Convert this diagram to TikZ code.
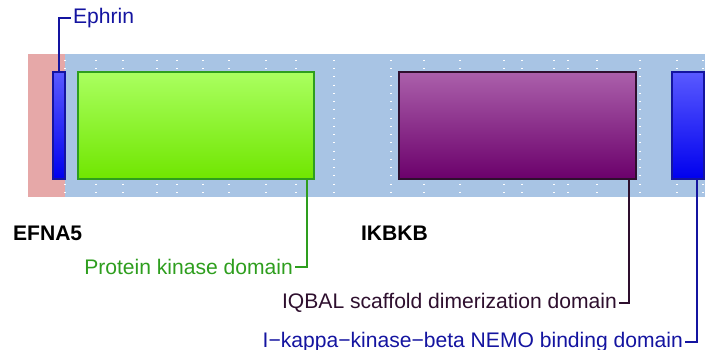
\documentclass[tikz,border=0pt]{standalone}
\usepackage{fontspec}
\setmainfont{Liberation Sans}
\usetikzlibrary{positioning}
\definecolor{bgPink}{HTML}{E6A8A8}
\definecolor{bgBlue}{HTML}{A8C4E4}
\definecolor{domBlue}{HTML}{1414A0}
\definecolor{domGreen}{HTML}{2E9E1E}
\definecolor{domPurple}{HTML}{2E0F2E}
\begin{document}
\begin{tikzpicture}[x=0.02cm, y=-0.02cm, font=\fontsize{12}{14}\selectfont,
    dombox/.style={anchor=north west, inner sep=0pt, outer sep=0pt, minimum height=2.14cm, line width=0.8pt},
    lbl/.style={inner sep=1pt},
    leader/.style={line width=0.7pt}]
  \useasboundingbox (0,0) rectangle (705,350);
  % background bands
  \fill[bgPink] (28,54) rectangle (65,197);
  \fill[bgBlue] (65,54) rectangle (705,197);
  \foreach \gx in {65,96,123,157,177,203,229,266,296,334,391,424,460,504,522,554,568,597,640,677,703}
    \draw[white, line width=0.8pt, dash pattern=on 0.6pt off 4.1pt] (\gx,59.8) -- (\gx,196);
  % domains
  \node[dombox, draw=domBlue, top color=blue!65, bottom color={rgb,255:red,0;green,0;blue,238}, minimum width=0.24cm] (ephrin) at (53,72) {};
  \node[dombox, draw=domGreen, top color={rgb,255:red,170;green,255;blue,96}, bottom color={rgb,255:red,112;green,230;blue,0}, minimum width=4.72cm] (kinase) at (78,72) {};
  \node[dombox, draw=domPurple, top color={rgb,255:red,171;green,96;blue,171}, bottom color={rgb,255:red,107;green,0;blue,107}, minimum width=4.74cm] (scaffold) at (399,72) {};
  \node[dombox, draw=domBlue, top color=blue!65, bottom color={rgb,255:red,0;green,0;blue,238}, minimum width=0.64cm] (nemo) at (672,72) {};
  % gene names
  \node[lbl, anchor=west, font=\fontsize{12}{14}\selectfont\bfseries] (efna) at (11,233) {EFNA5};
  \node[lbl, anchor=west, font=\fontsize{12}{14}\selectfont\bfseries] (ikbkb) at (359,233) {IKBKB};
  % labels
  \node[lbl, anchor=west, text=domBlue] (ephrinlbl) at (71,18) {Ephrin};
  \node[lbl, anchor=east, text=domGreen] (kinaselbl) at (295,267) {Protein kinase domain};
  \node[lbl, anchor=east, text=domPurple] (scaffoldlbl) at (619,303) {IQBAL scaffold dimerization domain};
  \node[lbl, anchor=east, text=domBlue] (nemolbl) at (685,342) {I\textminus kappa\textminus kinase\textminus beta NEMO binding domain};
  % leaders
  \draw[leader, domBlue] (ephrin.north) |- (ephrinlbl.west);
  \draw[leader, domGreen] ([xshift=-0.14cm]kinase.south east) |- (kinaselbl.east);
  \draw[leader, domPurple] ([xshift=-0.14cm]scaffold.south east) |- (scaffoldlbl.east);
  \draw[leader, domBlue] ([xshift=-0.14cm]nemo.south east) |- (nemolbl.east);
\end{tikzpicture}
\end{document}
